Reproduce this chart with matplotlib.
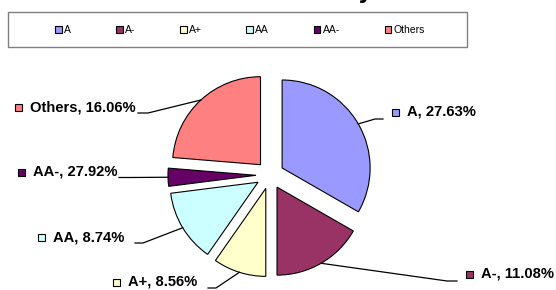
import matplotlib.pyplot as plt
from matplotlib.patches import Rectangle
import numpy as np

plt.rcParams['font.family'] = ['Liberation Sans', 'DejaVu Sans']

# slice sizes as drawn (share of the circle) and the label texts shown
categories = ['A', 'A-', 'A+', 'AA', 'AA-', 'Others']
slice_sizes = [33.3, 16.7, 9.7, 13.3, 3.3, 23.7]
label_pcts = ['27.63%', '11.08%', '8.56%', '8.74%', '27.92%', '16.06%']
colors = ['#9999FF', '#993366', '#FFFFCC', '#CCFFFF', '#660066', '#FF8080']

W, H = 556, 290
def Y(y):
    return H - y

fig = plt.figure(figsize=(W / 100, H / 100), dpi=100)
ax = fig.add_axes([0, 0, 1, 1])

# explode is in data units (pixels here)
wedges, _ = ax.pie(slice_sizes, explode=[14] * 6, colors=colors,
                   startangle=90, counterclock=False,
                   center=(270, Y(175)), radius=88,
                   wedgeprops=dict(edgecolor='black', linewidth=0.8))

# label layout: marker left x, text centre y, knee point, tail end x
label_pos = {
    'A':      (392, 112, (375, 119), 383),
    'A-':     (466, 274, (447, 281), 457),
    'A+':     (113, 282, (216, 288), 208),
    'AA':     (38, 237, (143, 243), 135),
    'AA-':    (18, 172, (130, 177.5), 119),
    'Others': (15, 107, (148, 113), 138),
}

for w, cat, pct, col in zip(wedges, categories, label_pcts, colors):
    mx, ty, knee, tail = label_pos[cat]
    th = np.deg2rad((w.theta1 + w.theta2) / 2)
    px = w.center[0] + w.r * np.cos(th)
    py = w.center[1] + w.r * np.sin(th)
    ax.plot([px, knee[0], tail], [py, Y(knee[1]), Y(knee[1])],
            color='black', lw=0.9, solid_joinstyle='miter')
    ax.add_patch(Rectangle((mx, Y(ty) - 3.5), 7, 7, facecolor=col,
                           edgecolor='black', lw=0.8))
    ax.text(mx + 15, Y(ty), f'{cat}, {pct}', fontsize=10.6,
            fontweight='bold', va='center', ha='left')

# legend box
ax.add_patch(Rectangle((8, Y(47)), 459, 35, facecolor='white',
                       edgecolor='#808080', lw=1.0))
fig.legend(wedges, categories, loc='center',
           bbox_to_anchor=(240 / W, 1 - 30 / H), ncol=6, frameon=False,
           fontsize=7.5, handlelength=0.65, handleheight=0.65,
           handletextpad=0.2, columnspacing=4.3)

# title sits above the visible area; only the descender of its last letter shows
fig.text(373 / W, 1 + 2 / H, 'Credit Risk Summary', fontsize=18,
         fontweight='bold', ha='right', va='baseline')

ax.set_xlim(0, W)
ax.set_ylim(0, H)
ax.axis('off')

fig.savefig('out.png', dpi=100)
